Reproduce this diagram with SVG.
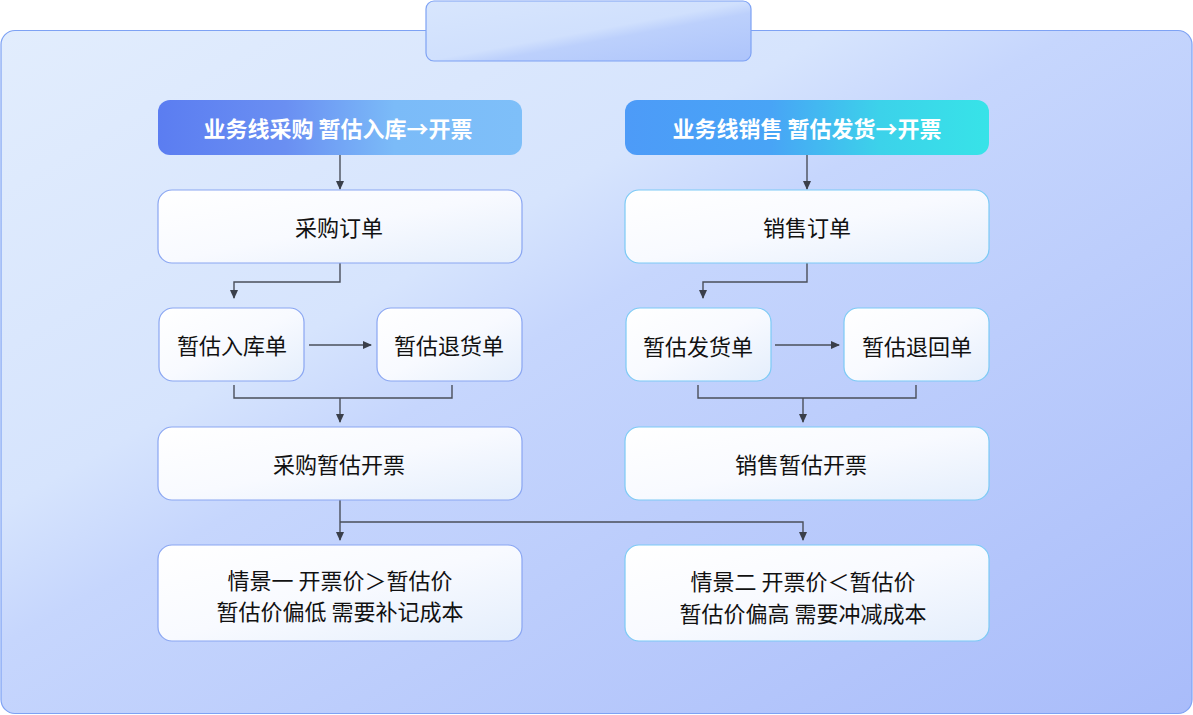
<svg xmlns="http://www.w3.org/2000/svg" width="1193" height="715" viewBox="0 0 1193 715">
<defs>
<linearGradient id="bg" x1="0" y1="0" x2="1" y2="1"><stop offset="0" stop-color="#e2edfd"/><stop offset="0.35" stop-color="#d6e4fd"/><stop offset="0.45" stop-color="#c6d6fd"/><stop offset="1" stop-color="#a9bcfa"/></linearGradient>
<linearGradient id="tab" x1="0" y1="0" x2="1" y2="1"><stop offset="0" stop-color="#d8e6fd"/><stop offset="0.5" stop-color="#d0e0fd"/><stop offset="0.6" stop-color="#bcd0fc"/><stop offset="1" stop-color="#adc4fb"/></linearGradient>
<linearGradient id="hl" x1="0" y1="0" x2="1" y2="0"><stop offset="0" stop-color="#5b7df1"/><stop offset="0.35" stop-color="#6a8ff2"/><stop offset="0.65" stop-color="#7bbbf8"/><stop offset="1" stop-color="#7ebff9"/></linearGradient>
<linearGradient id="hr" x1="0" y1="0" x2="1" y2="0"><stop offset="0" stop-color="#4d9bf8"/><stop offset="0.4" stop-color="#48a4f6"/><stop offset="0.7" stop-color="#3cd2ea"/><stop offset="1" stop-color="#37e3e8"/></linearGradient>
<linearGradient id="nf" x1="0" y1="0" x2="1" y2="1"><stop offset="0" stop-color="#ffffff"/><stop offset="0.5" stop-color="#f8faff"/><stop offset="1" stop-color="#e4eefc"/></linearGradient>
<marker id="ar" markerWidth="10" markerHeight="10" refX="8" refY="5" orient="auto" markerUnits="userSpaceOnUse"><path d="M0,1 L9,5 L0,9 Z" fill="#3a3f4a"/></marker>
</defs>
<style>
.n{fill:url(#nf);stroke:#8aa6f2;stroke-width:1.2}
.nr{fill:url(#nf);stroke:#7ccaf5;stroke-width:1.2}
.t{font-family:"Noto Sans CJK SC","Noto Sans",sans-serif;font-size:22px;font-weight:400;fill:#111;text-anchor:middle;dominant-baseline:central}
.h{font-family:"Noto Sans CJK SC","Noto Sans",sans-serif;font-size:22px;font-weight:bold;fill:#fff;text-anchor:middle;dominant-baseline:central}
.c{fill:none;stroke:#4a4f5a;stroke-width:1.4}
</style>
<rect x="1" y="30.5" width="1191" height="683" rx="14" fill="url(#bg)" stroke="#7ea2f4" stroke-width="1.2"/>
<rect x="426" y="1" width="325" height="60" rx="8" fill="url(#tab)" stroke="#7ea2f4" stroke-width="1.2"/>
<g id="connectors">
<path class="c" d="M340,155 V189" marker-end="url(#ar)"/>
<path class="c" d="M807,155 V189" marker-end="url(#ar)"/>
<path class="c" d="M340,263 V282 H234 V298" marker-end="url(#ar)"/>
<path class="c" d="M807,263 V282 H703 V298" marker-end="url(#ar)"/>
<path class="c" d="M309,345 H371" marker-end="url(#ar)"/>
<path class="c" d="M775,345 H839" marker-end="url(#ar)"/>
<path class="c" d="M234,385 V398 H452 V385"/>
<path class="c" d="M340,398 V422" marker-end="url(#ar)"/>
<path class="c" d="M698,385 V398 H916 V385"/>
<path class="c" d="M803,398 V422" marker-end="url(#ar)"/>
<path class="c" d="M340,500 V540" marker-end="url(#ar)"/>
<path class="c" d="M340,522 H803 V540" marker-end="url(#ar)"/>
</g>
<g id="hdrL"><rect x="158" y="100" width="364" height="55" rx="12" fill="url(#hl)"/><text class="h" x="338" y="127">业务线采购 暂估入库→开票</text></g>
<g id="hdrR"><rect x="625" y="100" width="364" height="55" rx="12" fill="url(#hr)"/><text class="h" x="807" y="127">业务线销售 暂估发货→开票</text></g>
<g id="po"><rect class="n" x="158" y="190" width="364" height="73" rx="14"/><text class="t" x="339" y="226">采购订单</text></g>
<g id="so"><rect class="nr" x="625" y="190" width="364" height="73" rx="14"/><text class="t" x="807" y="226">销售订单</text></g>
<g id="rk"><rect class="n" x="159" y="308" width="145" height="73" rx="14"/><text class="t" x="232" y="344">暂估入库单</text></g>
<g id="th"><rect class="n" x="377" y="308" width="145" height="73" rx="14"/><text class="t" x="449" y="344">暂估退货单</text></g>
<g id="fh"><rect class="nr" x="626" y="308" width="145" height="73" rx="14"/><text class="t" x="698" y="345">暂估发货单</text></g>
<g id="thr"><rect class="nr" x="844" y="308" width="145" height="73" rx="14"/><text class="t" x="917" y="345">暂估退回单</text></g>
<g id="cgkp"><rect class="n" x="158" y="427" width="364" height="73" rx="14"/><text class="t" x="339" y="463">采购暂估开票</text></g>
<g id="xskp"><rect class="nr" x="625" y="427" width="364" height="73" rx="14"/><text class="t" x="801" y="463">销售暂估开票</text></g>
<g id="s1"><rect class="n" x="158" y="545" width="364" height="96" rx="14"/><text class="t" x="340" y="579">情景一 开票价＞暂估价</text><text class="t" x="340" y="610">暂估价偏低 需要补记成本</text></g>
<g id="s2"><rect class="nr" x="625" y="545" width="364" height="96" rx="14"/><text class="t" x="803" y="580">情景二 开票价＜暂估价</text><text class="t" x="803" y="612">暂估价偏高 需要冲减成本</text></g>
</svg>
